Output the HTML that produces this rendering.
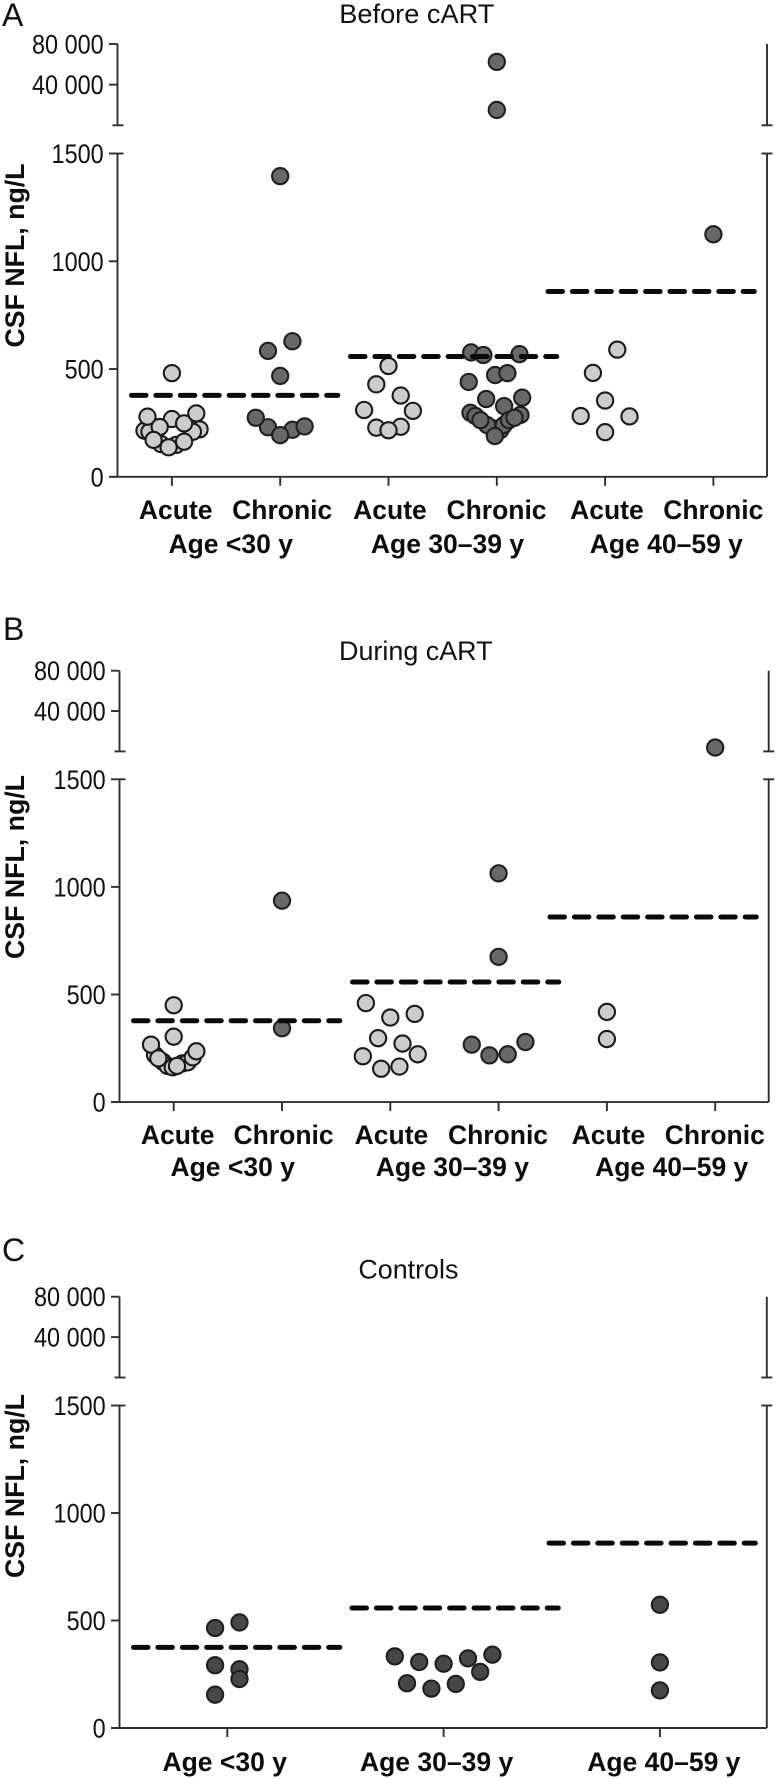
<!DOCTYPE html>
<html lang="en">
<head>
<meta charset="utf-8">
<title>CSF NFL by age group</title>
<style>
html,body{margin:0;padding:0;background:#fff;width:776px;height:1779px;overflow:hidden}
svg{display:block;font-family:"Liberation Sans",Arial,sans-serif;filter:blur(0.35px)}
.lbl{font-weight:700;font-size:26.5px;fill:#0d0d0d;text-anchor:middle}
.ttl{font-size:27px;fill:#111;text-anchor:middle}
.ltr{font-size:32px;fill:#111}
.yt{font-weight:700;font-size:27px;fill:#0d0d0d;text-anchor:middle}
.tk{font-size:26.5px;fill:#111;text-anchor:end}
</style>
</head>
<body>
<svg id="figure" xmlns="http://www.w3.org/2000/svg" width="776" height="1779" viewBox="0 0 776 1779">
  <text class="ltr" x="2" y="26">A</text>
  <text class="ttl" x="416.8" y="23" textLength="155" lengthAdjust="spacingAndGlyphs">Before cART</text>
  <text class="yt" transform="translate(24,255.5) rotate(-90)" textLength="184" lengthAdjust="spacingAndGlyphs">CSF NFL, ng/L</text>
  <text class="lbl" x="175.7" y="519">Acute</text>
  <text class="lbl" x="282.2" y="519">Chronic</text>
  <text class="lbl" x="390" y="519">Acute</text>
  <text class="lbl" x="496.5" y="519">Chronic</text>
  <text class="lbl" x="606.9" y="519">Acute</text>
  <text class="lbl" x="713.3" y="519">Chronic</text>
  <text class="lbl" x="230.7" y="553">Age &lt;30 y</text>
  <text class="lbl" x="447.5" y="553">Age 30–39 y</text>
  <text class="lbl" x="666.3" y="553">Age 40–59 y</text>

  <text class="ltr" x="3" y="640">B</text>
  <text class="ttl" x="415.8" y="660" textLength="153.5" lengthAdjust="spacingAndGlyphs">During cART</text>
  <text class="yt" transform="translate(24,867) rotate(-90)" textLength="184" lengthAdjust="spacingAndGlyphs">CSF NFL, ng/L</text>
  <text class="lbl" x="177.7" y="1144">Acute</text>
  <text class="lbl" x="283.6" y="1144">Chronic</text>
  <text class="lbl" x="391.5" y="1144">Acute</text>
  <text class="lbl" x="498" y="1144">Chronic</text>
  <text class="lbl" x="608.4" y="1144">Acute</text>
  <text class="lbl" x="714.8" y="1144">Chronic</text>
  <text class="lbl" x="232.7" y="1176">Age &lt;30 y</text>
  <text class="lbl" x="452.4" y="1176">Age 30–39 y</text>
  <text class="lbl" x="671.7" y="1176">Age 40–59 y</text>

  <text class="ltr" x="2" y="1261">C</text>
  <text class="ttl" x="408.4" y="1278.5" textLength="100" lengthAdjust="spacingAndGlyphs">Controls</text>
  <text class="yt" transform="translate(24,1486) rotate(-90)" textLength="184" lengthAdjust="spacingAndGlyphs">CSF NFL, ng/L</text>
  <text class="lbl" x="224.7" y="1771">Age &lt;30 y</text>
  <text class="lbl" x="436.6" y="1771">Age 30–39 y</text>
  <text class="lbl" x="663.8" y="1771">Age 40–59 y</text>
</svg>
<script>
// Tick labels and tick values
const upperTicks = [80000, 40000];
const upperTickLabels = ['80 000', '40 000'];
const lowerTicks = [1500, 1000, 500, 0];
const lowerTickLabels = ['1500', '1000', '500', '0'];

// Reference lines per age group (<30, 30-39, 40-59)
const referenceLimits = [378, 558, 860];
const referenceLimitsC = [375, 558, 860];

// Panel A: values (ng/L) and swarm slots (signed column number in the beeswarm)
const aAcuteUnder30Values = [152, 148, 214, 209, 220, 209, 268, 248, 279, 294, 231, 171, 163, 137, 481];
const aAcuteUnder30Slots = [-0.9, 0.36, -2.25, -1.84, 2.27, 1.72, 0, 1, -2, 2, -1, -1.5, 1, -0.27, 0];
const aChronicUnder30Values = [1395, 629, 584, 468, 218, 234, 230, 274, 193];
const aChronicUnder30Slots = [0, 1, -1, 0, 1, 2, -1, -2, 0];
const aAcute30to39Values = [514, 429, 377, 310, 306, 228, 232, 216];
const aAcute30to39Slots = [0, -1, 1, -2, 2, -1, 1, 0];
const aChronic30to39Values = [577, 565, 569, 440, 472, 481, 361, 367, 328, 226, 217, 240, 240, 189, 297, 282, 263, 287, 263, 274, 62400, 15100];
const aChronic30to39Slots = [-2.1, -1.1, 1.86, -2.3, -0.14, 0.87, -0.87, 2.08, 0.6, -0.38, 0.3, -0.8, 0.57, -0.16, -2.16, -1.75, -1.34, 1.94, 1, 1.45, 0, 0];
const aAcute40to59Values = [590, 482, 354, 282, 280, 207];
const aAcute40to59Slots = [1, -1, 0, -2, 2, 0];
const aChronic40to59Values = [1125];
const aChronic40to59Slots = [0];

// Panel B
const bAcuteUnder30Values = [219, 188, 168, 162, 180, 185, 208, 450, 304, 267, 236, 203, 168];
const bAcuteUnder30Slots = [-1.53, -0.9, -0.5, -0.08, 0.71, 1.15, 1.56, 0, 0, -1.86, 1.86, -1.26, 0.27];
const bChronicUnder30Values = [936, 343];
const bChronicUnder30Slots = [0, 0];
const bAcute30to39Values = [460, 393, 410, 297, 272, 213, 222, 155, 165];
const bAcute30to39Slots = [-2, 0, 2, -1, 1, -2.25, 2.25, -0.75, 0.75];
const bChronic30to39Values = [1063, 675, 267, 279, 217, 222];
const bChronic30to39Slots = [0, 0, -2.2, 2.2, -0.75, 0.75];
const bAcute40to59Values = [419, 293];
const bAcute40to59Slots = [0, 0];
const bChronic40to59Values = [3800];
const bChronic40to59Slots = [0];

// Panel C
const cUnder30Values = [465, 491, 292, 273, 228, 155];
const cUnder30Slots = [-1, 1, -1, 1, 1, -1];
const c30to39Values = [333, 307, 299, 324, 341, 261, 208, 183, 205];
const c30to39Slots = [-4, -2, 0, 2, 4, 3, -3, -1, 1];
const c40to59Values = [573, 305, 175];
const c40to59Slots = [0, 0, 0];

const SVG_NS = 'http://www.w3.org/2000/svg';
const svg = document.getElementById('figure');
const SLOT_PX = 12.2;
const DOT_STYLE = {
  acute: { fill: '#cccccc', stroke: '#1a1a1a' },
  chronic: { fill: '#686868', stroke: '#1f1f1f' },
  control: { fill: '#474747', stroke: '#1f1f1f' }
};

function make(tag, attrs, parent) {
  const el = document.createElementNS(SVG_NS, tag);
  for (const k in attrs) el.setAttribute(k, attrs[k]);
  parent.appendChild(el);
  return el;
}

function axisLine(g, x1, y1, x2, y2) {
  const el = make('line', { x1: x1, y1: y1, x2: x2, y2: y2, stroke: '#2e2e2e', 'stroke-width': 1.9 }, g);
  
  
  return el;
}

function drawPanel(p) {
  const g = make('g', {}, svg);
  
  

  const lowerScale = (p.y0Px - p.y1500Px) / 1500;
  const upperScale = (p.breakPx - p.y80kPx) / 80000;
  const yOf = function (v) {
    return v <= 1500 ? p.y0Px - v * lowerScale : p.breakPx - v * upperScale;
  };
  const xOf = function (cat, slot) {
    return p.cat0Px + cat * p.catStepPx + slot * SLOT_PX;
  };

  // Axes
  axisLine(g, p.axisX, p.y80kPx, p.axisX, p.breakPx);
  axisLine(g, p.axisX, p.y1500Px, p.axisX, p.y0Px);
  axisLine(g, p.rightX, p.y80kPx, p.rightX, p.breakPx);
  axisLine(g, p.rightX, p.y1500Px, p.rightX, p.y0Px);
  axisLine(g, p.axisX - 8, p.y0Px, p.rightX, p.y0Px);
  axisLine(g, p.axisX - 5, p.breakPx, p.axisX + 6, p.breakPx);
  axisLine(g, p.axisX + 6, p.y1500Px, p.axisX, p.y1500Px);
  axisLine(g, p.rightX - 5.5, p.breakPx, p.rightX + 5.5, p.breakPx);
  axisLine(g, p.rightX - 5.5, p.y1500Px, p.rightX + 5.5, p.y1500Px);

  // Y ticks
  const allTicks = upperTicks.concat(lowerTicks);
  const allLabels = upperTickLabels.concat(lowerTickLabels);
  allTicks.forEach(function (v, i) {
    const y = yOf(v);
    axisLine(g, p.axisX - 8.5, y, p.axisX, y);
    const t = make('text', {
      class: 'tk',
      transform: 'translate(' + (p.axisX - 13.8) + ',' + (y + 9.5) + ') scale(0.885,1)'
    }, g);
    
    
    t.textContent = allLabels[i];
  });

  // X ticks
  for (let c = 0; c < p.catCount; c++) {
    const x = xOf(c, 0);
    axisLine(g, x, p.y0Px, x, p.y0Px + 9);
  }

  // Dots
  p.groups.forEach(function (grp) {
    const style = DOT_STYLE[grp.kind];
    grp.values.forEach(function (v, i) {
      const dot = make('circle', {
        cx: xOf(grp.cat, grp.slots[i]),
        cy: yOf(v),
        r: 8.1,
        fill: style.fill,
        stroke: style.stroke,
        'stroke-width': 2.1
      }, g);
      
      
    });
  });

  // Reference lines (on top of the dots)
  p.limits.forEach(function (v, i) {
    const y = yOf(v);
    const line = make('line', {
      x1: p.dashStarts[i] + 2.5,
      y1: y,
      x2: p.dashStarts[i] + 208.8,
      y2: y,
      stroke: '#0a0a0a',
      'stroke-width': 5,
      'stroke-linecap': 'round',
      'stroke-dasharray': '14.5 9.9'
    }, g);
    
    
  });
}

drawPanel({
  id: 'a', y80kPx: 44, y1500Px: 153.5, y0Px: 476.8, breakPx: 125.3,
  axisX: 117.5, rightX: 767, cat0Px: 171.9, catStepPx: 108.3, catCount: 6,
  dashStarts: [129, 348, 545.5], limits: referenceLimits,
  groups: [
    { cat: 0, kind: 'acute', values: aAcuteUnder30Values, slots: aAcuteUnder30Slots },
    { cat: 1, kind: 'chronic', values: aChronicUnder30Values, slots: aChronicUnder30Slots },
    { cat: 2, kind: 'acute', values: aAcute30to39Values, slots: aAcute30to39Slots },
    { cat: 3, kind: 'chronic', values: aChronic30to39Values, slots: aChronic30to39Slots },
    { cat: 4, kind: 'acute', values: aAcute40to59Values, slots: aAcute40to59Slots },
    { cat: 5, kind: 'chronic', values: aChronic40to59Values, slots: aChronic40to59Slots }
  ]
});

drawPanel({
  id: 'b', y80kPx: 670.7, y1500Px: 779.3, y0Px: 1102.1, breakPx: 751.4,
  axisX: 119.5, rightX: 768.7, cat0Px: 173.7, catStepPx: 108.3, catCount: 6,
  dashStarts: [131, 350, 547.5], limits: referenceLimits,
  groups: [
    { cat: 0, kind: 'acute', values: bAcuteUnder30Values, slots: bAcuteUnder30Slots },
    { cat: 1, kind: 'chronic', values: bChronicUnder30Values, slots: bChronicUnder30Slots },
    { cat: 2, kind: 'acute', values: bAcute30to39Values, slots: bAcute30to39Slots },
    { cat: 3, kind: 'chronic', values: bChronic30to39Values, slots: bChronic30to39Slots },
    { cat: 4, kind: 'acute', values: bAcute40to59Values, slots: bAcute40to59Slots },
    { cat: 5, kind: 'chronic', values: bChronic40to59Values, slots: bChronic40to59Slots }
  ]
});

drawPanel({
  id: 'c', y80kPx: 1296.7, y1500Px: 1405.5, y0Px: 1728, breakPx: 1377.5,
  axisX: 119.5, rightX: 766.8, cat0Px: 227.3, catStepPx: 216.3, catCount: 3,
  dashStarts: [131, 349.5, 546.5], limits: referenceLimitsC,
  groups: [
    { cat: 0, kind: 'control', values: cUnder30Values, slots: cUnder30Slots },
    { cat: 1, kind: 'control', values: c30to39Values, slots: c30to39Slots },
    { cat: 2, kind: 'control', values: c40to59Values, slots: c40to59Slots }
  ]
});
</script>
</body>
</html>
